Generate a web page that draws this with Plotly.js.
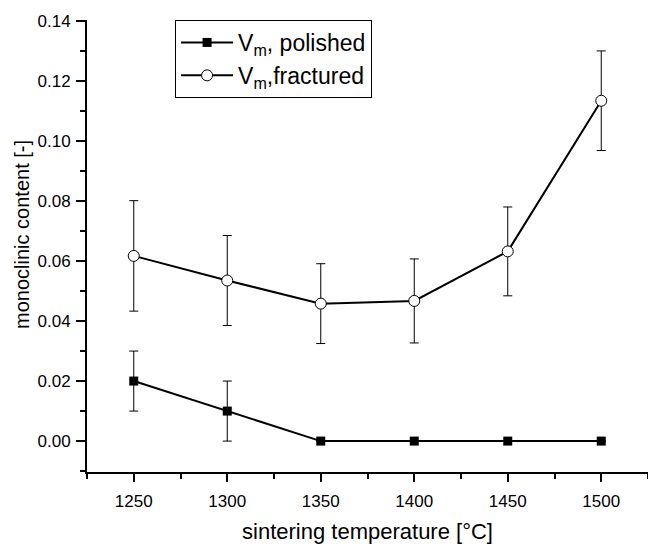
<!DOCTYPE html>
<html>
<head>
<meta charset="utf-8">
<script src="https://cdn.plot.ly/plotly-3.0.1.min.js"></script>
<style>html,body{margin:0;padding:0;background:#fff;}#chart{width:648px;height:544px;}</style>
</head>
<body>
<div id="chart"></div>
<script>
var temperatures = [1250, 1300, 1350, 1400, 1450, 1500];
var polished = [0.020, 0.010, 0.000, 0.000, 0.000, 0.000];
var polishedErr = [0.010, 0.010, 0, 0, 0, 0];
var fractured = [0.0617, 0.0535, 0.0458, 0.0467, 0.0632, 0.1134];
var fracturedErr = [0.0184, 0.0150, 0.0133, 0.0140, 0.0148, 0.0166];
var xTicks = [1250, 1300, 1350, 1400, 1450, 1500];
var yTicks = [0.00, 0.02, 0.04, 0.06, 0.08, 0.10, 0.12, 0.14];

var fontFam = 'Liberation Sans, Arial, sans-serif';
var traces = [
  {
    x: temperatures, y: polished, name: 'V<sub>m</sub>, polished',
    mode: 'lines+markers', type: 'scatter',
    line: {color: '#000', width: 2},
    marker: {symbol: 'square', size: 9, color: '#000'},
    error_y: {type: 'data', array: polishedErr, visible: true, color: '#000', thickness: 1, width: 4.5}
  },
  {
    x: temperatures, y: fractured, name: 'V<sub>m</sub>,fractured',
    mode: 'lines+markers', type: 'scatter',
    line: {color: '#000', width: 2},
    marker: {symbol: 'circle', size: 11, color: '#fff', line: {color: '#000', width: 1}},
    error_y: {type: 'data', array: fracturedErr, visible: true, color: '#000', thickness: 1, width: 4.5}
  }
];

var layout = {
  width: 648, height: 544,
  margin: {l: 87, r: 0, t: 20, b: 72},
  paper_bgcolor: '#fff', plot_bgcolor: '#fff',
  font: {family: fontFam, color: '#000', size: 17},
  showlegend: true,
  legend: {
    x: 0.157, y: 1.0, xanchor: 'left', yanchor: 'top',
    bordercolor: '#000', borderwidth: 1, bgcolor: '#fff',
    font: {family: fontFam, size: 23, color: '#000'},
    itemwidth: 52,
    tracegroupgap: 0
  },
  xaxis: {
    range: [1225, 1525], tickmode: 'array', tickvals: xTicks,
    ticktext: xTicks.map(String),
    showgrid: false, zeroline: false, showline: true, linecolor: '#000', linewidth: 2,
    ticks: 'outside', ticklen: 8, tickwidth: 2, tickcolor: '#000',
    tickfont: {size: 17}, ticklabelstandoff: 5,
    minor: {dtick: 50, tick0: 1225, ticks: 'outside', ticklen: 5, tickwidth: 2, tickcolor: '#000'},
    title: {text: 'sintering temperature [°C]', font: {size: 22}, standoff: 14}
  },
  yaxis: {
    range: [-0.0103, 0.1403], tickmode: 'array', tickvals: yTicks,
    ticktext: yTicks.map(function(v){return v.toFixed(2);}),
    showgrid: false, zeroline: false, showline: true, linecolor: '#000', linewidth: 2,
    ticks: 'outside', ticklen: 9, tickwidth: 2, tickcolor: '#000',
    tickfont: {size: 17}, ticklabelstandoff: 2,
    minor: {dtick: 0.02, tick0: 0.01, ticks: 'outside', ticklen: 5, tickwidth: 2, tickcolor: '#000'}
  },
  annotations: [{
    text: 'monoclinic content [-]', textangle: -90,
    xref: 'paper', yref: 'paper', x: -0.116, y: 0.5265,
    xanchor: 'center', yanchor: 'middle', showarrow: false,
    font: {size: 20, family: fontFam, color: '#000'}
  }]
};

Plotly.newPlot('chart', traces, layout, {displayModeBar: false, staticPlot: true});
</script>
</body>
</html>
